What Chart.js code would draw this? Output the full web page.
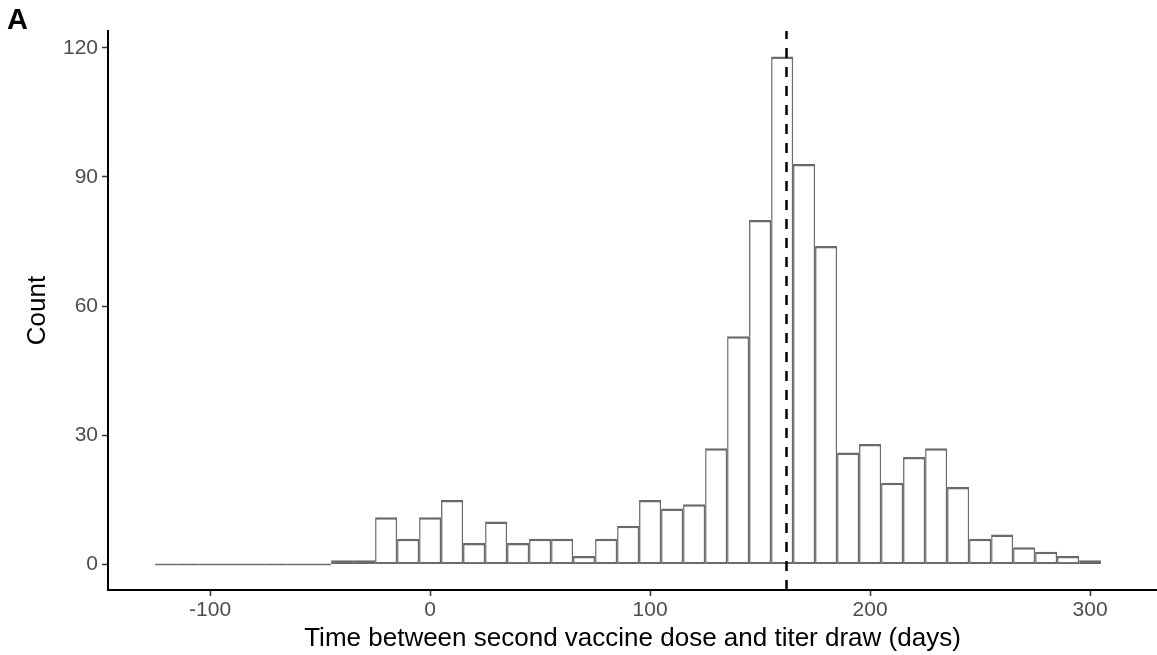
<!DOCTYPE html>
<html>
<head>
<meta charset="utf-8">
<script src="https://cdn.jsdelivr.net/npm/chart.js@4/dist/chart.umd.min.js"></script>
<style>
  html, body { margin: 0; padding: 0; background: #fff; }
  canvas { display: block; }
</style>
</head>
<body>
<canvas id="chart" width="1157" height="655"></canvas>
<script>
// histogram bins (centre of each 10-day bin) and counts
const binCenters = [-120, -110, -100, -90, -80, -70, -60, -50, -40, -30, -20, -10,
  0, 10, 20, 30, 40, 50, 60, 70, 80, 90, 100, 110, 120, 130, 140, 150, 160, 170,
  180, 190, 200, 210, 220, 230, 240, 250, 260, 270, 280, 290, 300];
const counts = [0, 0, 0, 0, 0, 0, 0, 0, 1, 1, 11, 6,
  11, 15, 5, 10, 5, 6, 6, 2, 6, 9, 15, 13, 14, 27, 53, 80, 118, 93,
  74, 26, 28, 19, 25, 27, 18, 6, 7, 4, 3, 2, 1];

// dashed reference line (days)
const refDay = 162;

// axis ranges and ticks
const xMin = -146.4, xMax = 330.4;
const yMin = -5.9, yMax = 123.9;
const xTicks = [-100, 0, 100, 200, 300];
const yTicks = [0, 30, 60, 90, 120];

const FONT = "'Liberation Sans', Arial, Helvetica, sans-serif";

// panel tag "A"
const tagPlugin = {
  id: 'tag',
  afterDraw(chart) {
    const ctx = chart.ctx;
    ctx.save();
    ctx.fillStyle = '#000';
    ctx.font = 'bold 29px ' + FONT;
    ctx.textBaseline = 'alphabetic';
    ctx.fillText('A', 7, 29);
    ctx.restore();
  }
};

const ctx = document.getElementById('chart').getContext('2d');
new Chart(ctx, {
  data: {
    datasets: [
      {
        type: 'line',
        data: [{ x: refDay, y: yMin }, { x: refDay, y: yMax }],
        borderColor: '#000',
        borderWidth: 2.5,
        borderDash: [10, 9],
        pointRadius: 0,
        order: 0
      },
      {
        type: 'bar',
        data: binCenters.map((c, i) => ({ x: c, y: counts[i] })),
        backgroundColor: '#fff',
        borderColor: '#6a6a6a',
        borderWidth: { top: 2.5, bottom: 2, left: 1.5, right: 1.5 },
        borderSkipped: false,
        inflateAmount: 0,
        minBarLength: 2,
        categoryPercentage: 1,
        barPercentage: 1,
        order: 1
      }
    ]
  },
  options: {
    responsive: false,
    animation: false,
    devicePixelRatio: 1,
    layout: { padding: { top: 31, right: 0, bottom: 0, left: 0 } },
    plugins: {
      legend: { display: false },
      tooltip: { enabled: false }
    },
    scales: {
      x: {
        type: 'linear',
        min: xMin,
        max: xMax,
        offset: false,
        afterBuildTicks: s => { s.ticks = xTicks.map(v => ({ value: v })); },
        afterFit: s => { s.height = 65; },
        grid: { display: true, offset: false, drawOnChartArea: false, drawTicks: true, tickLength: 6, tickWidth: 1.5, tickColor: '#333' },
        border: { display: true, color: '#000', width: 2 },
        ticks: { color: '#4d4d4d', font: { family: FONT, size: 21 }, padding: 2, maxRotation: 0 },
        title: { display: true, text: 'Time between second vaccine dose and titer draw (days)', color: '#000', font: { family: FONT, size: 26, lineHeight: 1 }, padding: { top: 0, bottom: 3 } }
      },
      y: {
        type: 'linear',
        min: yMin,
        max: yMax,
        afterBuildTicks: s => { s.ticks = yTicks.map(v => ({ value: v })); },
        afterFit: s => { s.width = 108; },
        grid: { display: true, drawOnChartArea: false, drawTicks: true, tickLength: 6, tickWidth: 1.5, tickColor: '#333' },
        border: { display: true, color: '#000', width: 2 },
        ticks: { color: '#4d4d4d', font: { family: FONT, size: 21 }, padding: 4 },
        title: { display: true, text: 'Count', color: '#000', font: { family: FONT, size: 26, lineHeight: 1 }, padding: { top: 25, bottom: 0 } }
      }
    }
  },
  plugins: [tagPlugin]
});
</script>
</body>
</html>
